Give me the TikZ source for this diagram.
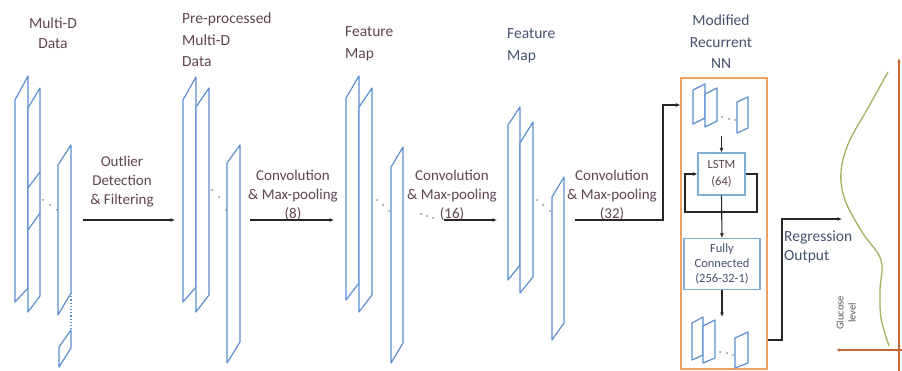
\documentclass[tikz,border=0pt]{standalone}
\usepackage{fontspec}
\setmainfont{Carlito}
\usetikzlibrary{arrows.meta}
\definecolor{planeblue}{HTML}{5B8FD2}
\definecolor{txtA}{HTML}{5E4453}
\definecolor{txtB}{HTML}{45526E}
\definecolor{boxorange}{HTML}{F0A263}
\definecolor{boxblue}{HTML}{7FAFD6}
\definecolor{curvegreen}{HTML}{9DB55E}
\definecolor{axisorange}{HTML}{C4683A}
\definecolor{dotgray}{HTML}{8A8A9A}
\newcommand{\myplane}[6]{\draw[plane] (#1,#4) -- (#2,#3) -- (#2,#5) -- (#1,#6) -- cycle;}
\newcommand{\mydots}[6]{\fill[dotgray] (#1,#2) circle (1pt) (#3,#4) circle (1pt) (#5,#6) circle (1pt);}
\begin{document}
\begin{tikzpicture}[x=1pt,y=-1pt,
  plane/.style={draw=planeblue, line width=1.2pt, fill=white, line join=round},
  lbl/.style={font=\fontsize{15.5}{20}\selectfont, align=center, inner sep=0pt},
  lblleft/.style={font=\fontsize{15.5}{21.5}\selectfont, align=left, inner sep=0pt, anchor=west},
  arr/.style={draw=black!85, line width=1.1pt, -{Latex[length=4.5pt,width=4pt]}},
  innerbox/.style={draw=boxblue, line width=1.1pt, fill=white, align=center, inner sep=0pt},
]
\useasboundingbox (0,0) rectangle (902,371);

% ---- Stack 1: Multi-D data
\myplane{15}{28}{76}{100}{288}{302}
\myplane{28}{40}{88}{108}{296}{312}
\draw[plane] (28,188) -- (40,172) (28,230) -- (40,213);
\draw[plane] (58,315) -- (58,165) -- (71,145) -- (71,293) -- cycle;
\draw[planeblue, line width=1.2pt, dotted] (71,293) -- (71,330);
\myplane{59}{71}{330}{347}{348}{367}
\mydots{43}{200}{50}{205}{57}{210}

% ---- Stack 2: Pre-processed
\myplane{183}{196}{77}{100}{287}{302}
\myplane{196}{209}{88}{107}{295}{312}
\myplane{227}{240}{145}{163}{342}{363}
\mydots{212}{190}{219}{197}{226}{210}

% ---- Stack 3: Feature map
\myplane{346}{359}{76}{98}{283}{300}
\myplane{359}{372}{88}{107}{295}{312}
\myplane{391}{403}{147}{167}{343}{363}
\mydots{377}{200}{383}{205}{389}{211}

% ---- Stack 4: Feature map
\myplane{508}{520}{107}{125}{265}{280}
\myplane{520}{533}{122}{143}{277}{293}
\myplane{552}{564}{177}{197}{323}{340}
\mydots{537}{200}{543}{205}{550}{211}

% ---- Labels
\node[lbl, text=txtA] (l1) at (53,33) {Multi-D\\Data};
\node[lblleft, text=txtA] (l2) at (182,40) {Pre-processed\\Multi-D\\Data};
\node[lblleft, text=txtA] (l3) at (345,44) {Feature\\Map};
\node[lblleft, text=txtB] (l4) at (507,46) {Feature\\Map};
\node[lbl, text=txtB, font=\fontsize{15.5}{21.5}\selectfont] (l5) at (721,42) {Modified\\Recurrent\\NN};

% ---- Arrows between stacks
\coordinate (a1s) at (83,220); \coordinate (a1e) at (175,220);
\draw[arr] (a1s) -- (a1e);
\node[lbl, text=txtA, font=\fontsize{15}{19}\selectfont] (t1) at (122,182) {Outlier\\Detection\\\& Filtering};

\coordinate (a2s) at (250,220); \coordinate (a2e) at (334,220);
\draw[arr] (a2s) -- (a2e);
\node[lbl, text=txtA, font=\fontsize{15}{19}\selectfont] (t2) at (293,195) {Convolution\\\& Max-pooling\\(8)};

\coordinate (a3s) at (444,220); \coordinate (a3e) at (497,220);
\mydots{421}{214}{427}{216}{433}{218}
\draw[arr] (a3s) -- (a3e);
\node[lbl, text=txtA, font=\fontsize{15}{19}\selectfont] (t3) at (452,195) {Convolution\\\& Max-pooling\\(16)};

\node[lbl, text=txtA, font=\fontsize{15}{19}\selectfont] (t4) at (612,195) {Convolution\\\& Max-pooling\\(32)};

% ---- Modified recurrent NN box
\node[draw=boxorange, line width=1.2pt, minimum width=86pt, minimum height=291pt, inner sep=0pt] (rnn) at (724,223.5) {};
\coordinate (a4s) at (575,220); \coordinate (a4k) at (663,220); \coordinate (inY) at (0,105);
\draw[arr] (a4s) -- (a4k) |- (rnn.west |- inY);

% top small planes
\myplane{693}{705}{84}{90}{118}{124}
\myplane{705}{717}{88}{94}{121}{127}
\myplane{737}{748}{97}{102}{128}{133}
\mydots{722}{117}{729}{119}{735}{120}

\node[innerbox, minimum width=47pt, minimum height=42pt, text=txtA, font=\fontsize{12.5}{17}\selectfont] (lstm) at (721.5,174) {LSTM\\(64)};
\node[innerbox, minimum width=76pt, minimum height=51pt, text=txtB, font=\fontsize{12.5}{15}\selectfont] (fc) at (722,264) {Fully\\Connected\\(256-32-1)};

\coordinate (topout) at (721.5,136);
\draw[arr] (topout) -- (lstm.north);
\coordinate (loopR) at (757,212); \coordinate (loopL) at (685,212);
\draw[arr] (lstm.east) -| (loopR) -- (loopL) |- (lstm.west);
\draw[arr] (lstm.south) -- (fc.north);
\coordinate (botin) at (722,317);
\draw[arr] (fc.south) -- (botin);

% bottom small planes
\myplane{692}{703}{317}{323}{355}{360}
\myplane{703}{715}{320}{326}{358}{363}
\myplane{735}{748}{332}{338}{363}{368}
\mydots{720}{352}{727}{353}{733}{355}

% ---- Regression output
\coordinate (oY) at (0,340); \coordinate (oK1) at (782,340); \coordinate (oK2) at (782,219); \coordinate (oE) at (842,219);
\draw[arr] (rnn.east |- oY) -- (oK1) -- (oK2) -- (oE);
\node[lblleft, text=txtB, font=\fontsize{15.5}{19}\selectfont] (reg) at (784,247) {Regression\\Output};

% ---- Glucose plot
\draw[curvegreen, line width=1.3pt] plot[smooth, tension=0.6] coordinates {(888,72) (868,108) (849,142) (841,172) (845,200) (862,232) (881,260) (880,290) (881,318) (889,346)};
\draw[axisorange, line width=1.2pt, -{Latex[length=4pt,width=3.5pt]}] (899,371) -- (899,58);
\draw[axisorange, line width=1.2pt, -{Latex[length=4pt,width=3.5pt]}] (902,350) -- (836,350);
\node[rotate=90, align=center, inner sep=0pt, text=black!65, font=\fontsize{10.5}{12}\selectfont] (gl) at (846,313) {Glucose\\level};
\end{tikzpicture}
\end{document}
